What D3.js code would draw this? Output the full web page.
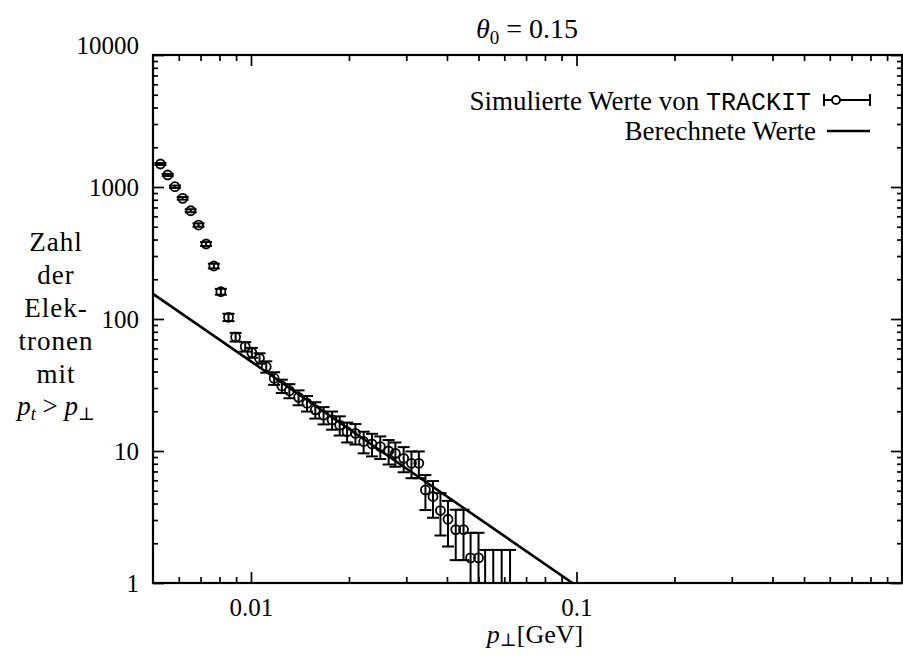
<!DOCTYPE html>
<html>
<head>
<meta charset="utf-8">
<script src="https://cdn.jsdelivr.net/npm/d3@7"></script>
<style>
  body { margin: 0; background: #fff; }
  svg { display: block; }
  text { font-family: "Liberation Serif", "Times New Roman", "DejaVu Serif", serif; fill: #000; }
</style>
</head>
<body>
<div class="vis"></div>
<script>
// simulated values from TRACKIT: p_perp [GeV], count, error
const simPt = [0.00527, 0.00555, 0.00584, 0.00617, 0.00653, 0.0069, 0.00728, 0.00769, 0.00808, 0.00853,
  0.00897, 0.0096, 0.01006, 0.01062, 0.01114, 0.01178, 0.01244, 0.01312, 0.0140, 0.01486,
  0.01576, 0.01671, 0.01775, 0.01873, 0.01974, 0.02093, 0.02219, 0.02354, 0.02496, 0.02648,
  0.02777, 0.02945, 0.03112, 0.03278, 0.03435, 0.03624, 0.0382, 0.0403, 0.04256, 0.04497,
  0.04727, 0.05, 0.0524, 0.0555, 0.0589, 0.0625];
const simCount = [1493, 1233, 1005, 821, 661, 515, 370, 252, 161, 103,
  73, 61.7, 55.6, 50.4, 43.5, 35.6, 31.1, 28.6, 25.5, 23.0,
  20.5, 18.7, 17.2, 15.7, 14.0, 13.6, 11.8, 11.3, 10.8, 10.0,
  9.6, 8.8, 8.07, 8.07, 5.07, 4.52, 3.54, 3.04, 2.54, 2.54,
  1.55, 1.55, 0.75, 0.75, 0.75, 0.75];
const simErr = [25, 23, 21, 19, 17, 15, 12.5, 10.3, 8.2, 6.6,
  5.5, 5.1, 4.8, 4.6, 4.3, 3.9, 3.6, 3.5, 3.3, 3.1,
  2.9, 2.8, 2.7, 2.6, 2.4, 2.4, 2.2, 2.2, 2.1, 2.1,
  2.0, 1.9, 1.85, 1.85, 1.5, 1.4, 1.25, 1.15, 1.05, 1.05,
  0.85, 0.85, 1.03, 1.03, 1.03, 1.03];

// calculated values (straight line in log-log)
const calcPt = [0.005, 0.0972];
const calcCount = [155, 1];

// ticks
const xMajor = [0.01, 0.1, 1];
const xMinor = [0.006, 0.007, 0.008, 0.009, 0.02, 0.03, 0.04, 0.05, 0.06, 0.07, 0.08, 0.09,
  0.2, 0.3, 0.4, 0.5, 0.6, 0.7, 0.8, 0.9];
const yMajor = [1, 10, 100, 1000, 10000];
const yMinor = [2, 3, 4, 5, 6, 7, 8, 9, 20, 30, 40, 50, 60, 70, 80, 90,
  200, 300, 400, 500, 600, 700, 800, 900, 2000, 3000, 4000, 5000, 6000, 7000, 8000, 9000];

const W = 903, H = 656;
const margin = {top: 55, right: 1, bottom: 73, left: 153};
const width = W - margin.left - margin.right;
const height = H - margin.top - margin.bottom;
const serif = "'Liberation Serif', 'Times New Roman', 'DejaVu Serif', serif";

const svg = d3.select(".vis").append("svg")
  .attr("width", W)
  .attr("height", H);

const g = svg.append("g")
  .attr("transform", "translate(" + margin.left + "," + margin.top + ")");

const x = d3.scaleLog().domain([0.005, 1]).range([0, width]);
const y = d3.scaleLog().domain([1, 10000]).range([height, 0]);

svg.append("defs").append("clipPath").attr("id", "clip")
  .append("rect").attr("width", width).attr("height", height);

// axes with inward ticks on all four sides
function styleAxis(sel) {
  sel.select(".domain").remove();
  sel.selectAll("line").attr("stroke", "#000").attr("stroke-width", 1.7);
  sel.selectAll("text").style("font-size", "25px").style("font-family", serif);
}

g.append("g").attr("transform", "translate(0," + height + ")")
  .call(d3.axisBottom(x).tickValues(xMajor).tickFormat(d => d === 1 ? "" : d).tickSize(-11).tickPadding(15))
  .call(styleAxis);
g.append("g").attr("transform", "translate(0," + height + ")")
  .call(d3.axisBottom(x).tickValues(xMinor).tickFormat("").tickSize(-6))
  .call(styleAxis);
g.append("g")
  .call(d3.axisTop(x).tickValues(xMajor).tickFormat("").tickSize(-11))
  .call(styleAxis);
g.append("g")
  .call(d3.axisTop(x).tickValues(xMinor).tickFormat("").tickSize(-6))
  .call(styleAxis);

const yLeft = g.append("g")
  .call(d3.axisLeft(y).tickValues(yMajor).tickFormat(d3.format("d")).tickSize(-11).tickPadding(14))
  .call(styleAxis);
yLeft.selectAll("text").filter(d => d === 10000).attr("dy", "-0.05em");
g.append("g")
  .call(d3.axisLeft(y).tickValues(yMinor).tickFormat("").tickSize(-5))
  .call(styleAxis);
g.append("g").attr("transform", "translate(" + width + ",0)")
  .call(d3.axisRight(y).tickValues(yMajor).tickFormat("").tickSize(-11))
  .call(styleAxis);
g.append("g").attr("transform", "translate(" + width + ",0)")
  .call(d3.axisRight(y).tickValues(yMinor).tickFormat("").tickSize(-5))
  .call(styleAxis);

// frame
g.append("rect")
  .attr("width", width).attr("height", height)
  .attr("fill", "none").attr("stroke", "#000").attr("stroke-width", 2.2);

// data
const plot = g.append("g").attr("clip-path", "url(#clip)");

const sim = simPt.map((p, i) => ({p: p, n: simCount[i], e: simErr[i]}));
const cap = 6;
const lowY = d => d.n - d.e > 0.1 ? y(d.n - d.e) : height + 5;

const bars = plot.selectAll(".err").data(sim).enter().append("g").attr("class", "err")
  .attr("stroke", "#000").attr("stroke-width", 2);
bars.append("line")
  .attr("x1", d => x(d.p)).attr("x2", d => x(d.p))
  .attr("y1", lowY)
  .attr("y2", d => y(d.n + d.e));
bars.append("line")
  .attr("x1", d => x(d.p) - cap).attr("x2", d => x(d.p) + cap)
  .attr("y1", d => y(d.n + d.e)).attr("y2", d => y(d.n + d.e));
bars.append("line")
  .attr("x1", d => x(d.p) - cap).attr("x2", d => x(d.p) + cap)
  .attr("y1", lowY).attr("y2", lowY);

plot.selectAll(".pt").data(sim.filter(d => d.n >= 1)).enter().append("circle")
  .attr("class", "pt")
  .attr("cx", d => x(d.p)).attr("cy", d => y(d.n)).attr("r", 4.5)
  .attr("fill", "none").attr("stroke", "#000").attr("stroke-width", 1.8);

const calc = calcPt.map((p, i) => ({p: p, n: calcCount[i]}));
plot.append("path").datum(calc)
  .attr("fill", "none").attr("stroke", "#000").attr("stroke-width", 2.6)
  .attr("d", d3.line().x(d => x(d.p)).y(d => y(d.n)));

// legend
const leg = svg.append("g");
leg.append("text").attr("x", 811).attr("y", 110).attr("text-anchor", "end")
  .style("font-size", "27px")
  .html('Simulierte Werte von <tspan style="font-family:\'Liberation Mono\',\'DejaVu Sans Mono\',monospace;font-size:25px">TRACKIT</tspan>');
leg.append("line").attr("x1", 824).attr("x2", 870).attr("y1", 100).attr("y2", 100)
  .attr("stroke", "#000").attr("stroke-width", 2);
leg.append("line").attr("x1", 824).attr("x2", 824).attr("y1", 94).attr("y2", 106)
  .attr("stroke", "#000").attr("stroke-width", 2);
leg.append("line").attr("x1", 870).attr("x2", 870).attr("y1", 94).attr("y2", 106)
  .attr("stroke", "#000").attr("stroke-width", 2);
leg.append("circle").attr("cx", 836).attr("cy", 100).attr("r", 4)
  .attr("fill", "#fff").attr("stroke", "#000").attr("stroke-width", 1.8);
leg.append("text").attr("x", 816).attr("y", 140).attr("text-anchor", "end")
  .style("font-size", "27px").text("Berechnete Werte");
leg.append("line").attr("x1", 827).attr("x2", 870).attr("y1", 131).attr("y2", 131)
  .attr("stroke", "#000").attr("stroke-width", 2.6);

// title
svg.append("text").attr("x", 527).attr("y", 38).attr("text-anchor", "middle")
  .style("font-size", "28px")
  .html('<tspan font-style="italic">θ</tspan><tspan dy="6" style="font-size:19px">0</tspan><tspan dy="-6"> =  0.15</tspan>');

// x label
svg.append("text").attr("x", 535).attr("y", 643).attr("text-anchor", "middle")
  .style("font-size", "26px")
  .html('<tspan font-style="italic">p</tspan><tspan dy="3" style="font-size:18px">⊥</tspan><tspan dy="-3">[GeV]</tspan>');

// y label
const yLab = ["Zahl", "der", "Elek-", "tronen", "mit"];
const yl = svg.append("g");
yl.selectAll("text").data(yLab).enter().append("text")
  .attr("x", 56).attr("y", (d, i) => 251 + i * 33)
  .attr("text-anchor", "middle").style("font-size", "27px").style("letter-spacing", "1px")
  .text(d => d);
yl.append("text").attr("x", 56).attr("y", 415).attr("text-anchor", "middle")
  .style("font-size", "27px")
  .html('<tspan font-style="italic">p</tspan><tspan dy="5" font-style="italic" style="font-size:18px">t</tspan><tspan dy="-5"> &gt; </tspan><tspan font-style="italic">p</tspan><tspan dy="5" style="font-size:18px">⊥</tspan>');
</script>
</body>
</html>
